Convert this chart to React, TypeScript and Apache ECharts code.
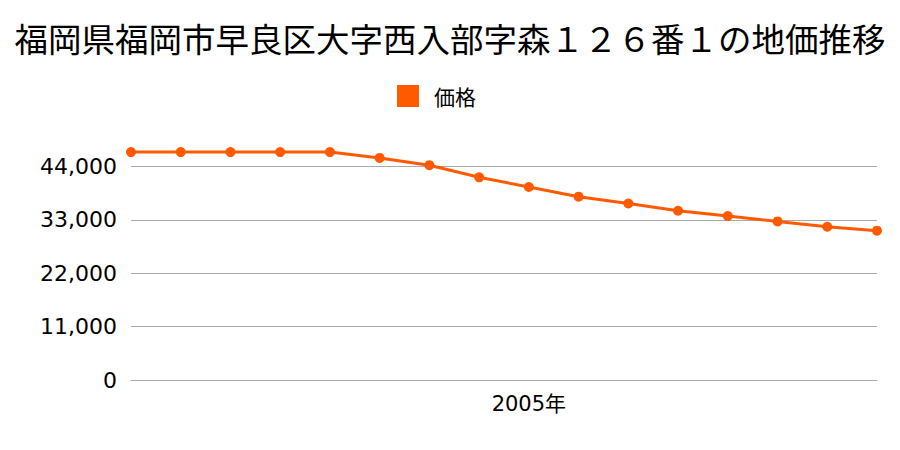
import React, { useEffect, useRef } from "react";
import * as echarts from "echarts";

const titleText = "福岡県福岡市早良区大字西入部字森１２６番１の地価推移";
const seriesName = "価格";
const years = ["1997", "1998", "1999", "2000", "2001", "2002", "2003", "2004", "2005", "2006", "2007", "2008", "2009", "2010", "2011", "2012"];
const prices = [47000, 47000, 47000, 47000, 47000, 45800, 44300, 41800, 39800, 37800, 36400, 34900, 33800, 32700, 31600, 30800];
const shownYears = ["2005"];

export default function App() {
  const ref = useRef<HTMLDivElement>(null);
  useEffect(() => {
    if (!ref.current) return;
    const chart = echarts.init(ref.current, null, { renderer: "svg" });
    const font = "'Noto Sans CJK JP', 'Noto Sans', sans-serif";
    const numFont = "'DejaVu Sans', 'Noto Sans CJK JP', sans-serif";
    chart.setOption({
      animation: false,
      title: {
        text: titleText,
        left: "center",
        top: 16,
        textStyle: { fontSize: 33.5, fontWeight: "normal", color: "#000", fontFamily: font },
      },
      legend: {
        data: [seriesName],
        top: 80,
        left: 392,
        icon: "rect",
        itemWidth: 22,
        itemHeight: 22,
        textStyle: { fontSize: 21, color: "#000", fontFamily: font, padding: [0, 0, 0, 10] },
      },
      grid: { left: 131, right: 23, top: 113.3, bottom: 70, containLabel: false },
      xAxis: {
        type: "category",
        data: years,
        boundaryGap: false,
        axisLine: { show: true, lineStyle: { color: "#aaa", width: 1 } },
        axisTick: { show: false },
        axisLabel: {
          interval: (idx: number, val: string) => shownYears.includes(val),
          formatter: (v: string) => v + "年",
          fontSize: 21,
          color: "#000",
          margin: 13,
          fontFamily: numFont,
        },
        splitLine: { show: false },
      },
      yAxis: {
        type: "value",
        min: 0,
        max: 55000,
        interval: 11000,
        axisLine: { show: false },
        axisTick: { show: false },
        axisLabel: {
          showMaxLabel: false,
          fontSize: 22,
          color: "#000",
          margin: 14,
          fontFamily: numFont,
          formatter: (v: number) => v.toLocaleString("en-US"),
        },
        splitLine: {
          show: true,
          lineStyle: { color: ["#aaa", "#aaa", "#aaa", "#aaa", "#aaa", "rgba(0,0,0,0)"], width: 1 },
        },
      },
      series: [
        {
          name: seriesName,
          type: "line",
          data: prices,
          symbol: "circle",
          symbolSize: 10,
          itemStyle: { color: "#ff5a00" },
          lineStyle: { color: "#ff5a00", width: 3 },
        },
      ],
    });
    return () => chart.dispose();
  }, []);
  return <div ref={ref} style={{ width: 900, height: 450, position: "absolute", left: 0, top: 0 }} />;
}
